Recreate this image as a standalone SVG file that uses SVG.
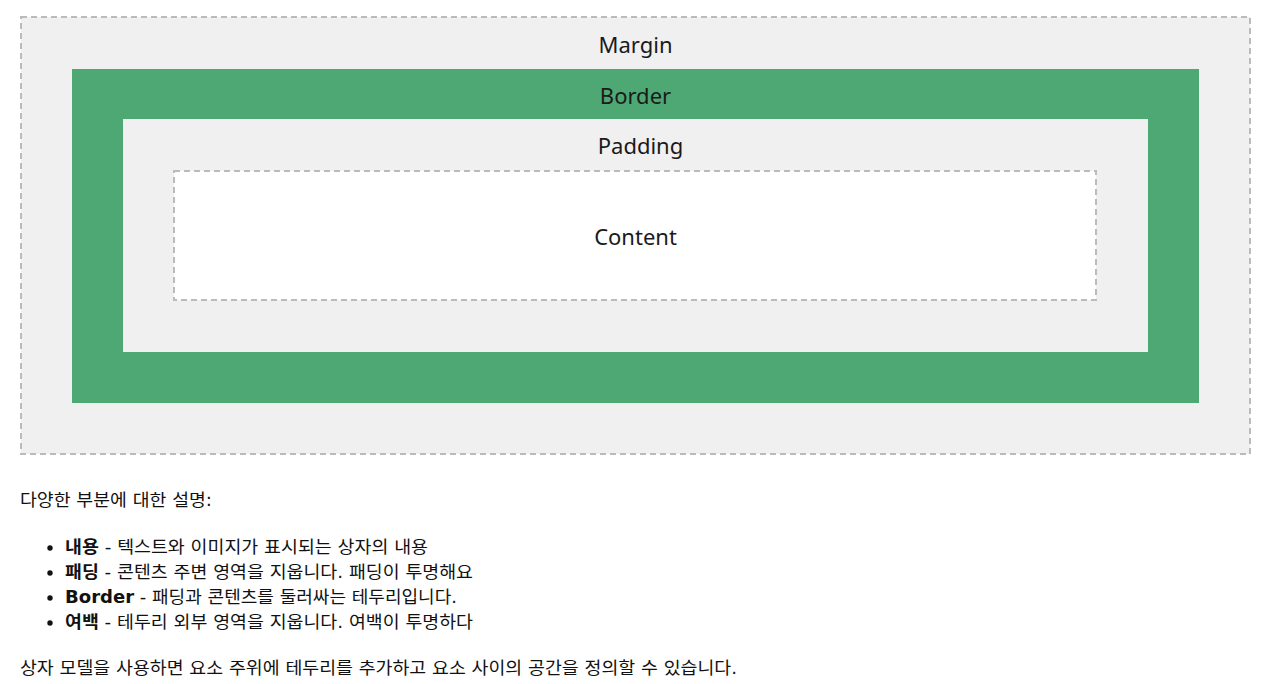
<svg xmlns="http://www.w3.org/2000/svg" width="1269" height="684" viewBox="0 0 1269 684">
<style>
.lbl{font-family:"Noto Sans","Noto Sans CJK KR",sans-serif;font-size:22px;fill:#1a1a1a;text-anchor:middle}
.t{font-family:"DejaVu Sans","Noto Sans CJK KR",sans-serif;font-size:17px;fill:#111}
.b{font-weight:bold}
.dash{stroke:#bbb;stroke-width:2;stroke-dasharray:6 4}
</style>
<rect width="1269" height="684" fill="#fff"/>
<g id="margin">
<rect x="21" y="17" width="1229" height="437" fill="#f0f0f0" class="dash"/>
<text class="lbl" x="635.5" y="53">Margin</text>
</g>
<g id="border">
<rect x="72" y="69" width="1127" height="334" fill="#4ea874"/>
<text class="lbl" x="635.5" y="104">Border</text>
</g>
<g id="padding">
<rect x="123" y="119" width="1025" height="233" fill="#f0f0f0"/>
<text class="lbl" x="640.5" y="154">Padding</text>
</g>
<g id="content">
<rect x="174" y="171" width="922" height="129" fill="#fff" class="dash"/>
<text class="lbl" x="635.5" y="245">Content</text>
</g>
<g id="connectors"/>
<g id="description">
<text class="t" x="20" y="506" textLength="192" lengthAdjust="spacingAndGlyphs">다양한 부분에 대한 설명:</text>
<circle cx="50" cy="548" r="2.7" fill="#111"/>
<circle cx="50" cy="573" r="2.7" fill="#111"/>
<circle cx="50" cy="598" r="2.7" fill="#111"/>
<circle cx="50" cy="623" r="2.7" fill="#111"/>
<text class="t" x="65" y="553" textLength="363" lengthAdjust="spacingAndGlyphs"><tspan class="b">내용</tspan> - 텍스트와 이미지가 표시되는 상자의 내용</text>
<text class="t" x="65" y="578" textLength="408" lengthAdjust="spacingAndGlyphs"><tspan class="b">패딩</tspan> - 콘텐츠 주변 영역을 지웁니다. 패딩이 투명해요</text>
<text class="t" x="65" y="603" textLength="392" lengthAdjust="spacingAndGlyphs"><tspan class="b">Border</tspan> - 패딩과 콘텐츠를 둘러싸는 테두리입니다.</text>
<text class="t" x="65" y="628" textLength="408" lengthAdjust="spacingAndGlyphs"><tspan class="b">여백</tspan> - 테두리 외부 영역을 지웁니다. 여백이 투명하다</text>
<text class="t" x="20" y="674" textLength="717" lengthAdjust="spacingAndGlyphs">상자 모델을 사용하면 요소 주위에 테두리를 추가하고 요소 사이의 공간을 정의할 수 있습니다.</text>
</g>
</svg>
